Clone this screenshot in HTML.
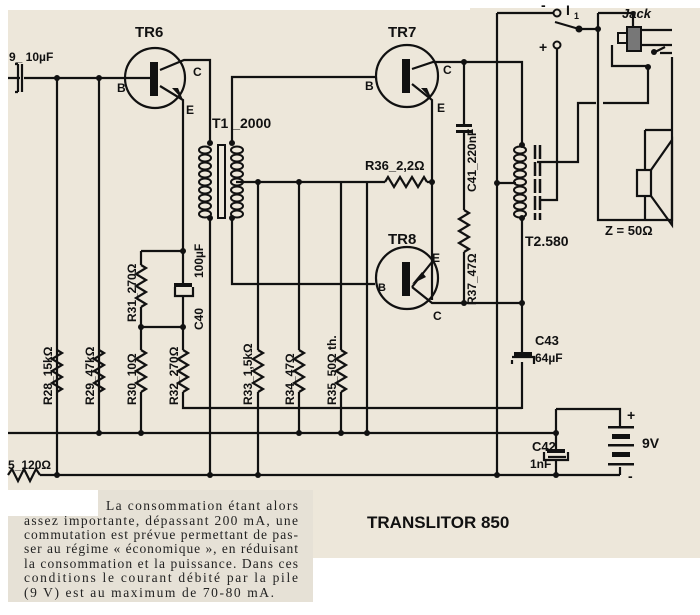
<!DOCTYPE html>
<html><head><meta charset="utf-8"><style>
html,body{margin:0;padding:0;background:#fff;}
svg{display:block;}
.t{font-family:"Liberation Sans",sans-serif;font-weight:bold;font-size:12px;fill:#111;}
.p{font-family:"Liberation Serif",serif;font-size:13.5px;fill:#222;}
</style></head><body>
<svg width="700" height="615" viewBox="0 0 700 615" xmlns="http://www.w3.org/2000/svg">
<defs>
<polyline id="rv" points="0,0 5,3 -5,9 5,15 -5,21 5,27 -5,33 5,39 0,42" fill="none" stroke="#111" stroke-width="2.2"/>
<polyline id="rh" points="0,0 3,-5 9,5 15,-5 21,5 27,-5 33,5 39,-5 42,0" fill="none" stroke="#111" stroke-width="2.2"/>
<g id="coil" fill="none" stroke="#111" stroke-width="2">
<ellipse cx="0" cy="0" rx="6" ry="3.5"/><ellipse cx="0" cy="8" rx="6" ry="3.5"/><ellipse cx="0" cy="16" rx="6" ry="3.5"/><ellipse cx="0" cy="24" rx="6" ry="3.5"/><ellipse cx="0" cy="32" rx="6" ry="3.5"/><ellipse cx="0" cy="40" rx="6" ry="3.5"/><ellipse cx="0" cy="48" rx="6" ry="3.5"/><ellipse cx="0" cy="56" rx="6" ry="3.5"/><ellipse cx="0" cy="64" rx="6" ry="3.5"/>
</g>
</defs>
<rect x="8" y="8" width="692" height="550" fill="#ede7da"/>
<rect x="8" y="8" width="462" height="2" fill="#fff"/>
<rect x="8" y="490" width="305" height="112" fill="#e6e1d6"/>
<rect x="8" y="490" width="90" height="26" fill="#fff"/>

<g stroke="#111" stroke-width="2.2" fill="none">
<path d="M8,78 H20 M24,78 H152"/>
<path d="M22,64 V92 M18,64 V92 M18,64 H15 M18,92 H15"/>
<path d="M57,78 V475 M99,78 V433"/>
<circle cx="155" cy="78" r="30"/>
<path d="M160,70 L184,60 H210 V143 M160,86 L183,100 V251"/>
<path d="M210,218 V475 M232,143 V77 H375 M232,218 V284 H375 M236,182 H367"/>
<path d="M183,251 V284 M183,296 V327 M141,251 H183 M141,251 V265 M141,307 V350 M141,392 V433 M183,327 V350 M183,392 V408 H522"/>
<path d="M258,182 V350 M258,392 V475 M299,182 V350 M299,392 V433 M341,182 V350 M341,392 V433"/>
<path d="M141,327 H183"/>
<path d="M8,433 H556 M40,475 H620 M556,409 H620 V427 M620,467 V475 M556,409 V450 M556,460 V475"/>
<circle cx="407" cy="76" r="31"/>
<path d="M412,69 L433,62 H522 V143 M412,84 L432,100 V300"/>
<path d="M367,182 H385 M427,182 H432 M367,182 V433"/>
<circle cx="407" cy="278" r="31"/>
<path d="M412,287 L432,303 H522 V352 M522,362 V409"/>
<path d="M464,62 V124 M464,131 V210 M464,252 V303"/>
<path d="M522,218 V303 M497,13 V475 M497,183 H516 M537,162 H578 V103 H596 M603,103 H648 V67"/>
<path d="M497,13 H553 M540,200 H557 V49"/>
<path d="M579,29 L555,22 M579,29 H598 V220 H672 V57 M598,13 V29 M598,13 H633 V27"/>
<path d="M612,45 V66 H648 M655,52 L665,47 M660,53 H672 M641,30 H672 M641,45 H672"/>
<path d="M645,130 H672 M645,130 V170 M645,195 V220"/>
<rect x="637" y="170" width="14" height="26"/>
<path d="M651,170 L672,140 V225 L651,196"/>
<path d="M8,475 L12,469 L18,481 L24,469 L30,481 L36,469 L40,475"/>
<path d="M548,457 H566 M544,452 V460 H568 V452"/>
<path d="M512,360 V364 M512,357 H534 V364"/>
<path d="M175,287 V296 H193 V287"/>
<path d="M535,145 V220 M540,145 V220" stroke-width="2.5" stroke-dasharray="14,3"/>
</g>
<rect x="150" y="62" width="8" height="34" fill="#111"/>
<rect x="402" y="59" width="8" height="34" fill="#111"/>
<rect x="402" y="262" width="8" height="34" fill="#111"/>
<path d="M183,100 L172,88 L178,88 Z" fill="#111"/>
<path d="M432,100 L421,88 L427,88 Z" fill="#111"/>
<path d="M412,284 L422,272 L426,277 Z" fill="#111"/>
<path d="M412,287 L432,262" stroke="#111" stroke-width="2.2"/>
<rect x="174" y="283" width="18" height="4" fill="#111"/>
<rect x="456" y="124" width="16" height="3" fill="#111"/><rect x="456" y="130" width="16" height="3" fill="#111"/>
<rect x="514" y="352" width="18" height="4" fill="#111"/>
<rect x="547" y="449" width="18" height="4" fill="#111"/>
<g fill="#111"><rect x="608" y="426" width="26" height="2.5"/><rect x="612" y="434" width="18" height="5"/><rect x="608" y="444" width="26" height="2.5"/><rect x="612" y="452" width="18" height="5"/><rect x="608" y="463" width="26" height="2.5"/></g>
<use href="#coil" x="205" y="150"/><use href="#coil" x="237" y="150"/>
<rect x="218" y="145" width="7" height="73" fill="none" stroke="#111" stroke-width="2"/>
<use href="#coil" x="520" y="150"/>
<rect x="627" y="27" width="14" height="24" fill="#777" stroke="#111" stroke-width="2"/>
<rect x="618" y="33" width="9" height="10" fill="none" stroke="#111" stroke-width="2"/>
<use href="#rv" x="57" y="350"/><use href="#rv" x="99" y="350"/><use href="#rv" x="141" y="350"/><use href="#rv" x="183" y="350"/>
<use href="#rv" x="141" y="265"/><use href="#rv" x="258" y="350"/><use href="#rv" x="299" y="350"/><use href="#rv" x="341" y="350"/>
<use href="#rv" x="464" y="210"/><use href="#rh" x="385" y="182"/>
<g fill="#111">
<circle cx="57" cy="78" r="3"/><circle cx="99" cy="78" r="3"/><circle cx="210" cy="143" r="3"/><circle cx="232" cy="143" r="3"/><circle cx="210" cy="218" r="3"/><circle cx="232" cy="218" r="3"/>
<circle cx="258" cy="182" r="3"/><circle cx="299" cy="182" r="3"/><circle cx="183" cy="251" r="3"/><circle cx="141" cy="327" r="3"/><circle cx="183" cy="327" r="3"/>
<circle cx="99" cy="433" r="3"/><circle cx="141" cy="433" r="3"/><circle cx="299" cy="433" r="3"/><circle cx="341" cy="433" r="3"/><circle cx="367" cy="433" r="3"/><circle cx="556" cy="433" r="3"/>
<circle cx="57" cy="475" r="3"/><circle cx="210" cy="475" r="3"/><circle cx="258" cy="475" r="3"/><circle cx="497" cy="475" r="3"/><circle cx="556" cy="475" r="3"/>
<circle cx="432" cy="182" r="3"/><circle cx="464" cy="62" r="3"/><circle cx="464" cy="303" r="3"/><circle cx="522" cy="303" r="3"/><circle cx="497" cy="183" r="3"/>
<circle cx="522" cy="145" r="3"/><circle cx="522" cy="218" r="3"/><circle cx="579" cy="29" r="3.5"/><circle cx="598" cy="29" r="3"/><circle cx="648" cy="67" r="3"/><circle cx="654" cy="52" r="3"/>
</g>
<g fill="#ede7da" stroke="#111" stroke-width="2"><circle cx="557" cy="13" r="3.5"/><circle cx="557" cy="45" r="3.5"/></g>
<g class="t">
<text x="135" y="37" font-size="15">TR6</text><text x="388" y="37" font-size="15">TR7</text><text x="388" y="244" font-size="15">TR8</text>
<text x="117" y="92">B</text><text x="193" y="76">C</text><text x="186" y="114">E</text>
<text x="365" y="90">B</text><text x="443" y="74">C</text><text x="437" y="112">E</text>
<text x="378" y="291" font-size="11">B</text><text x="432" y="262">E</text><text x="433" y="320">C</text>
<text x="9" y="61">9_ 10µF</text>
<text x="212" y="128" font-size="14">T1 _2000</text>
<text x="365" y="170" font-size="13">R36_2,2Ω</text>
<text x="525" y="246" font-size="14">T2.580</text>
<text x="605" y="235" font-size="13">Z = 50Ω</text>
<text x="622" y="18" font-style="italic" font-size="13">Jack</text>
<text x="566" y="15" font-size="14">I</text><text x="574" y="19" font-size="9">1</text>
<text x="541" y="10" font-size="14">-</text><text x="539" y="52" font-size="14">+</text>
<text x="535" y="345" font-size="13">C43</text><text x="535" y="362">64µF</text>
<text x="532" y="451" font-size="13">C42</text><text x="530" y="468">1nF</text>
<text x="627" y="420" font-size="14">+</text><text x="628" y="481" font-size="14">-</text><text x="642" y="448" font-size="14">9V</text>
<text x="8" y="469">5_120Ω</text>
<text transform="translate(52,405) rotate(-90)">R28_15kΩ</text>
<text transform="translate(94,405) rotate(-90)">R29_47kΩ</text>
<text transform="translate(136,405) rotate(-90)">R30_10Ω</text>
<text transform="translate(178,405) rotate(-90)">R32_270Ω</text>
<text transform="translate(136,322) rotate(-90)">R31_270Ω</text>
<text transform="translate(252,405) rotate(-90)">R33_1,5kΩ</text>
<text transform="translate(294,405) rotate(-90)">R34_47Ω</text>
<text transform="translate(336,405) rotate(-90)">R35_50Ω th.</text>
<text transform="translate(203,330) rotate(-90)">C40</text>
<text transform="translate(203,278) rotate(-90)">100µF</text>
<text transform="translate(476,192) rotate(-90)">C41_220nF</text>
<text transform="translate(476,305) rotate(-90)">R37_47Ω</text>
</g>
<text x="367" y="528" font-family="Liberation Sans,sans-serif" font-weight="bold" font-size="17" fill="#111">TRANSLITOR 850</text>
<g class="p">
<text x="106" y="510" textLength="192">La consommation étant alors</text>
<text x="24" y="525" textLength="274">assez importante, dépassant 200 mA, une</text>
<text x="24" y="539" textLength="274">commutation est prévue permettant de pas-</text>
<text x="24" y="553" textLength="274">ser au régime « économique », en réduisant</text>
<text x="24" y="568" textLength="274">la consommation et la puissance. Dans ces</text>
<text x="24" y="582" textLength="274">conditions le courant débité par la pile</text>
<text x="24" y="597" textLength="250">(9 V) est au maximum de 70-80 mA.</text>
</g>
</svg>
</body></html>
